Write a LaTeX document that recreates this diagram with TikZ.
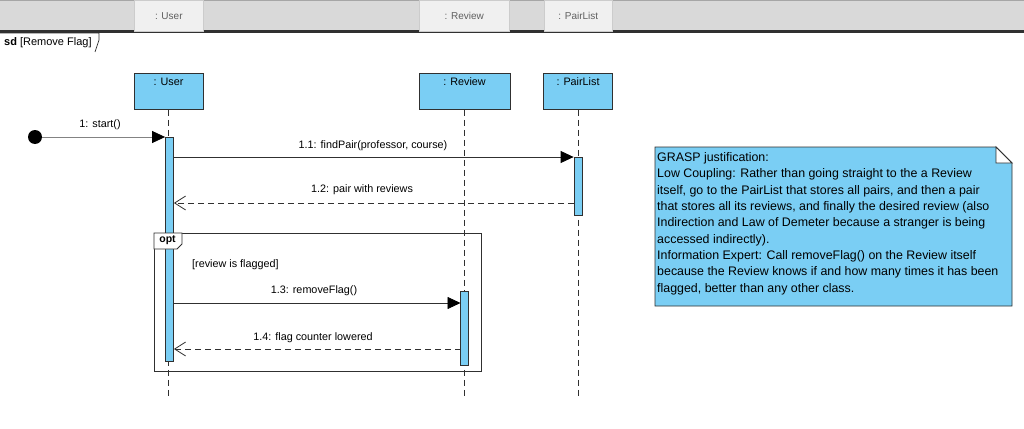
\documentclass[tikz,border=0pt]{standalone}
\usepackage{fontspec}
\setmainfont{Liberation Sans}
\usetikzlibrary{arrows.meta}
\definecolor{umlblue}{HTML}{7ACEF4}
\definecolor{edge}{HTML}{303030}
\definecolor{hdrgray}{HTML}{D9D9D9}
\definecolor{hdrcell}{HTML}{F0F0F0}
\definecolor{hdrtext}{HTML}{606060}
\begin{document}
\begin{tikzpicture}[x=1pt,y=-1pt,
  hdrcellstyle/.style={draw=white!80!black, fill=hdrcell, line width=0.6pt,
    inner sep=0pt, anchor=north west, font=\fontsize{10}{11}\selectfont, text=hdrtext},
  headbox/.style={draw=edge, fill=umlblue, line width=0.9pt, inner sep=0pt,
    minimum height=36pt, anchor=north},
  headtxt/.style={inner sep=0pt, anchor=center, font=\fontsize{10.8}{12}\selectfont},
  actbar/.style={draw=edge, fill=umlblue, line width=0.8pt, inner sep=0pt,
    minimum width=8pt, anchor=north},
  lifeline/.style={draw=edge, line width=0.8pt, dash pattern=on 6pt off 4pt},
  msg/.style={draw=edge, line width=0.8pt,
    -{Triangle[length=13pt,width=12pt,color=black,fill=black]}},
  reply/.style={draw=edge, line width=0.8pt, dash pattern=on 6pt off 4pt,
    -{Straight Barb[length=11pt,width=14pt,line width=0.8pt]}},
  msglabel/.style={inner sep=0pt, font=\fontsize{10.8}{12}\selectfont},
  framebox/.style={draw=edge, line width=0.9pt}
]
\useasboundingbox (0,0) rectangle (1024,428);
\fill[white] (0,0) rectangle (1024,428);

% ---- header strip with lifeline tabs
\fill[hdrgray] (0,0) rectangle (1024,31);
\draw[gray!70, line width=1pt] (0,0.5) -- (1024,0.5);
\fill[edge] (0,30.5) rectangle (1024,33);
\node[hdrcellstyle, minimum width=69pt, minimum height=31pt] (hcuser) at (134,0) {};
\node[hdrcellstyle, minimum width=90pt, minimum height=31pt] (hcreview) at (419,0) {};
\node[hdrcellstyle, minimum width=68pt, minimum height=31pt] (hcpair) at (544,0) {};
\node[hdrcellstyle, draw=none, fill=none] (hluser) at (hcuser.center) [anchor=center] {: User};
\node[hdrcellstyle, draw=none, fill=none] (hlreview) at (hcreview.center) [anchor=center] {: Review};
\node[hdrcellstyle, draw=none, fill=none] (hlpair) at (hcpair.center) [anchor=center] {: PairList};

% ---- sd frame tab
\draw[framebox, line width=0.7pt] (0,33) -- (99,33) -- (99,40) -- (95,52);
\node[inner sep=0pt, anchor=west, font=\fontsize{11}{13}\selectfont] (sdlabel) at (4,43)
  {\textbf{sd} [Remove Flag]};

% ---- lifeline heads
\node[headbox, minimum width=69pt] (user) at (168.5,73) {};
\node[headbox, minimum width=91pt] (review) at (464.5,73) {};
\node[headbox, minimum width=69pt] (pair) at (578,73) {};
\node[headtxt] (usertxt) at (168.5,82) {: User};
\node[headtxt] (reviewtxt) at (464.5,82) {: Review};
\node[headtxt] (pairtxt) at (578,82) {: PairList};

% ---- lifelines
\coordinate (userend) at (168.5,396);
\coordinate (reviewend) at (464.5,396);
\coordinate (pairend) at (578,396);
\draw[lifeline] (user.south) -- (userend);
\draw[lifeline] (review.south) -- (reviewend);
\draw[lifeline] (pair.south) -- (pairend);

% ---- activation bars
\node[actbar, minimum height=224pt] (uact) at (169.5,137) {};
\node[actbar, minimum height=58pt] (pact) at (578,157) {};
\node[actbar, minimum height=74pt] (ract) at (464.5,291) {};

% ---- opt combined fragment (its tab sits above the bar)
\draw[framebox] (154,233) rectangle (481,371);
\draw[framebox, fill=white] (154,233) -- (154,249) -- (177,249) -- (182,244) -- (182,233) -- cycle;
\node[inner sep=0pt, anchor=center, font=\bfseries\fontsize{10.5}{12}\selectfont] (optlabel) at (167.5,240.5) {opt};
\node[msglabel, anchor=west] (guard) at (192,265) {[review is flagged]};

% ---- found message
\node[circle, fill=black, inner sep=0pt, minimum size=14pt] (startdot) at (35,137) {};
\draw[msg, draw=edge!60] (startdot) -- (uact.north west);
\node[msglabel] (m1) at (100,125) {1: start()};

% ---- messages
\coordinate (m11a) at (uact.east |- pact.north);
\draw[msg] (m11a) -- (pact.north west);
\node[msglabel] (l11) at (373,146) {1.1: findPair(professor, course)};

\coordinate (m12a) at (574,203);
\draw[reply] (m12a) -- (uact.east |- m12a);
\node[msglabel] (l12) at (362,190) {1.2: pair with reviews};

\coordinate (m13b) at (460.5,303);
\draw[msg] (uact.east |- m13b) -- (m13b);
\node[msglabel] (l13) at (314,291) {1.3: removeFlag()};

\coordinate (m14a) at (460.5,349);
\draw[reply] (m14a) -- (uact.east |- m14a);
\node[msglabel] (l14) at (313,338) {1.4: flag counter lowered};

% ---- note
\draw[draw=edge, fill=umlblue, line width=0.9pt]
  (655,147) -- (996,147) -- (1012,163) -- (1012,306) -- (655,306) -- cycle;
\draw[draw=edge, fill=white, line width=0.9pt] (996,147) -- (996,163) -- (1012,163) -- cycle;
\node[inner sep=0pt, anchor=north west, align=left,
  font=\fontsize{12.4}{16.3}\selectfont] (note) at (657,152.5)
{GRASP justification:\\
Low Coupling: Rather than going straight to the a Review\\
itself, go to the PairList that stores all pairs, and then a pair\\
that stores all its reviews, and finally the desired review (also\\
Indirection and Law of Demeter because a stranger is being\\
accessed indirectly).\\
Information Expert: Call removeFlag() on the Review itself\\
because the Review knows if and how many times it has been\\
flagged, better than any other class.};
\end{tikzpicture}
\end{document}
